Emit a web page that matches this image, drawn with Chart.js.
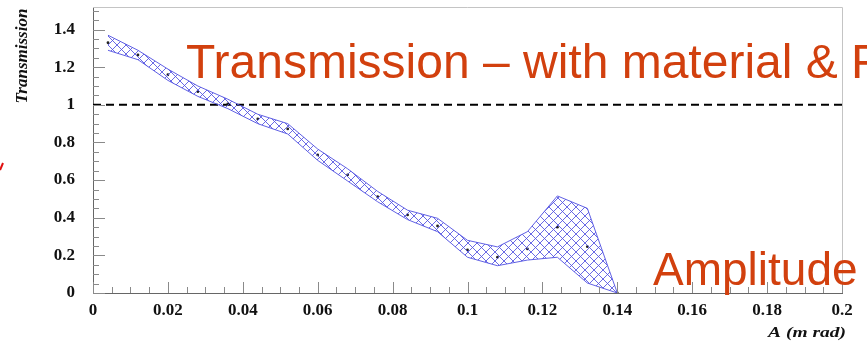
<!DOCTYPE html>
<html lang="en">
<head>
    <meta charset="UTF-8">
    <title>Transmission vs Amplitude</title>
    <script src="https://cdn.jsdelivr.net/npm/chart.js"></script>
    <style>
        html, body {
            margin: 0;
            padding: 0;
            background: #ffffff;
        }
        .chart-box {
            width: 867px;
            height: 341px;
        }
    </style>
</head>
<body>
    <div class="chart-box">
        <canvas id="transChart" width="867" height="341"></canvas>
    </div>

    <script>
        // values
        const amplitudes = [0.004, 0.012, 0.020, 0.028, 0.036, 0.044, 0.052, 0.060, 0.068,
                            0.076, 0.084, 0.092, 0.100, 0.108, 0.116, 0.124, 0.132, 0.140];
        const transmission = [1.33, 1.265, 1.16, 1.07, 1.005, 0.925, 0.872, 0.734, 0.628,
                              0.512, 0.415, 0.356, 0.229, 0.19, 0.234, 0.35, 0.246, 0];
        const bandUpper = [1.37, 1.29, 1.19, 1.10, 1.03, 0.95, 0.90, 0.765, 0.66,
                           0.54, 0.44, 0.397, 0.28, 0.245, 0.326, 0.516, 0.45, 0];
        const bandLower = [1.29, 1.24, 1.13, 1.045, 0.98, 0.90, 0.845, 0.705, 0.595,
                           0.485, 0.39, 0.326, 0.19, 0.145, 0.175, 0.19, 0.053, 0];

        const refLineX = [0, 0.2];
        const refLineY = [1, 1];

        const xTickValues = [0, 0.02, 0.04, 0.06, 0.08, 0.1, 0.12, 0.14, 0.16, 0.18, 0.2];
        const xTickLabels = ["0", "0.02", "0.04", "0.06", "0.08", "0.1", "0.12", "0.14", "0.16", "0.18", "0.2"];
        const yTickValues = [0, 0.2, 0.4, 0.6, 0.8, 1, 1.2, 1.4];
        const yTickLabels = ["0", "0.2", "0.4", "0.6", "0.8", "1", "1.2", "1.4"];

        const toPoints = (xs, ys) => xs.map((x, i) => ({ x: x, y: ys[i] }));

        // cross hatch for the band
        function makeHatch() {
            const s = 9;
            const c = document.createElement("canvas");
            c.width = s;
            c.height = s;
            const g = c.getContext("2d");
            g.strokeStyle = "rgba(80, 80, 225, 0.85)";
            g.lineWidth = 1;
            g.beginPath();
            g.moveTo(-1, -1); g.lineTo(s + 1, s + 1);
            g.moveTo(-1, s + 1); g.lineTo(s + 1, -1);
            g.stroke();
            return g.createPattern(c, "repeat");
        }

        const serif = "'Liberation Serif', 'DejaVu Serif', serif";
        const sans = "'Liberation Sans', Arial, sans-serif";

        // inner ticks and the frame, ROOT style
        const frameTicks = {
            id: "frameTicks",
            afterDatasetsDraw(chart) {
                const { ctx, chartArea: a, scales } = chart;
                ctx.save();
                ctx.lineWidth = 1;
                ctx.strokeStyle = "#c4c4c4";
                ctx.beginPath();
                ctx.moveTo(a.left, a.top + 0.5);
                ctx.lineTo(a.right + 0.5, a.top + 0.5);
                ctx.lineTo(a.right + 0.5, a.bottom);
                ctx.stroke();

                ctx.strokeStyle = "#8a8a8a";
                ctx.beginPath();
                for (let k = 0; k <= 40; k++) {
                    const v = k * 0.005;
                    const px = Math.round(scales.x.getPixelForValue(v)) + 0.5;
                    const len = (k % 4 === 0) ? 11 : 6;
                    ctx.moveTo(px, a.bottom);
                    ctx.lineTo(px, a.bottom - len);
                }
                for (let k = 0; k <= 30; k++) {
                    const v = k * 0.05;
                    const py = Math.round(scales.y.getPixelForValue(v)) + 0.5;
                    const len = (k % 4 === 0) ? 12 : 6;
                    ctx.moveTo(a.left, py);
                    ctx.lineTo(a.left + len, py);
                }
                ctx.stroke();
                ctx.restore();
            },
            afterDraw(chart) {
                const ctx = chart.ctx;
                ctx.save();
                ctx.fillStyle = "#111";

                // y title, placed near the top like ROOT does
                ctx.save();
                ctx.translate(27, 56);
                ctx.rotate(-Math.PI / 2);
                ctx.font = "italic bold 17px " + serif;
                ctx.textAlign = "center";
                ctx.textBaseline = "alphabetic";
                ctx.fillText("Transmission", 0, 0);
                ctx.restore();

                // x title
                ctx.save();
                ctx.translate(846, 337);
                ctx.scale(1.3, 1);
                ctx.font = "italic bold 15px " + serif;
                ctx.textAlign = "right";
                ctx.fillText("A (m rad)", 0, 0);
                ctx.restore();

                // slide text laid over the plot
                ctx.fillStyle = "#d2400e";
                ctx.textAlign = "left";
                ctx.font = "48px " + sans;
                ctx.fillText("Transmission \u2013 with material & F", 186, 78);
                ctx.font = "46px " + sans;
                ctx.fillText("Amplitude", 653, 285);

                // bit of a red arrow from the slide at the left edge
                ctx.strokeStyle = "#e01010";
                ctx.lineWidth = 2;
                ctx.beginPath();
                ctx.moveTo(0, 170);
                ctx.lineTo(3, 163);
                ctx.stroke();
                ctx.restore();
            }
        };

        const ctx = document.getElementById("transChart").getContext("2d");
        new Chart(ctx, {
            type: "scatter",
            data: {
                datasets: [
                    {
                        label: "upper",
                        type: "line",
                        data: toPoints(amplitudes, bandUpper),
                        borderColor: "rgba(80, 80, 225, 0.9)",
                        borderWidth: 1,
                        backgroundColor: makeHatch(),
                        fill: "+1",
                        pointRadius: 0,
                        tension: 0
                    },
                    {
                        label: "lower",
                        type: "line",
                        data: toPoints(amplitudes, bandLower),
                        borderColor: "rgba(80, 80, 225, 0.9)",
                        borderWidth: 1,
                        fill: false,
                        pointRadius: 0,
                        tension: 0
                    },
                    {
                        label: "Transmission",
                        data: toPoints(amplitudes, transmission),
                        backgroundColor: "#222",
                        borderColor: "#222",
                        pointRadius: 1.4,
                        pointBorderWidth: 0
                    },
                    {
                        label: "unity",
                        type: "line",
                        data: toPoints(refLineX, refLineY),
                        borderColor: "#000",
                        borderWidth: 2,
                        borderDash: [8, 5],
                        pointRadius: 0,
                        fill: false
                    }
                ]
            },
            options: {
                responsive: false,
                animation: false,
                events: [],
                layout: {
                    padding: { top: 7, right: 25, left: 0, bottom: 0 }
                },
                plugins: {
                    legend: { display: false },
                    tooltip: { enabled: false }
                },
                scales: {
                    x: {
                        type: "linear",
                        min: 0,
                        max: 0.2,
                        afterFit: s => {
                            s.height = 48;
                            s.paddingLeft = 0;
                            s.paddingRight = 0;
                        },
                        afterBuildTicks: s => { s.ticks = xTickValues.map(v => ({ value: v })); },
                        grid: { display: false, drawTicks: false },
                        border: { display: true, color: "#666", width: 1 },
                        ticks: {
                            padding: 7,
                            color: "#111",
                            maxRotation: 0,
                            font: { family: serif, weight: "bold", size: 17 },
                            callback: (v, i) => xTickLabels[i]
                        }
                    },
                    y: {
                        type: "linear",
                        min: 0,
                        max: 1.52,
                        afterFit: s => {
                            s.width = 93;
                            s.paddingTop = 0;
                            s.paddingBottom = 0;
                        },
                        afterBuildTicks: s => { s.ticks = yTickValues.map(v => ({ value: v })); },
                        grid: { display: false, drawTicks: false },
                        border: { display: true, color: "#666", width: 1 },
                        ticks: {
                            padding: 18,
                            color: "#111",
                            font: { family: serif, weight: "bold", size: 17 },
                            callback: (v, i) => yTickLabels[i]
                        }
                    }
                }
            },
            plugins: [frameTicks]
        });
    </script>
</body>
</html>
